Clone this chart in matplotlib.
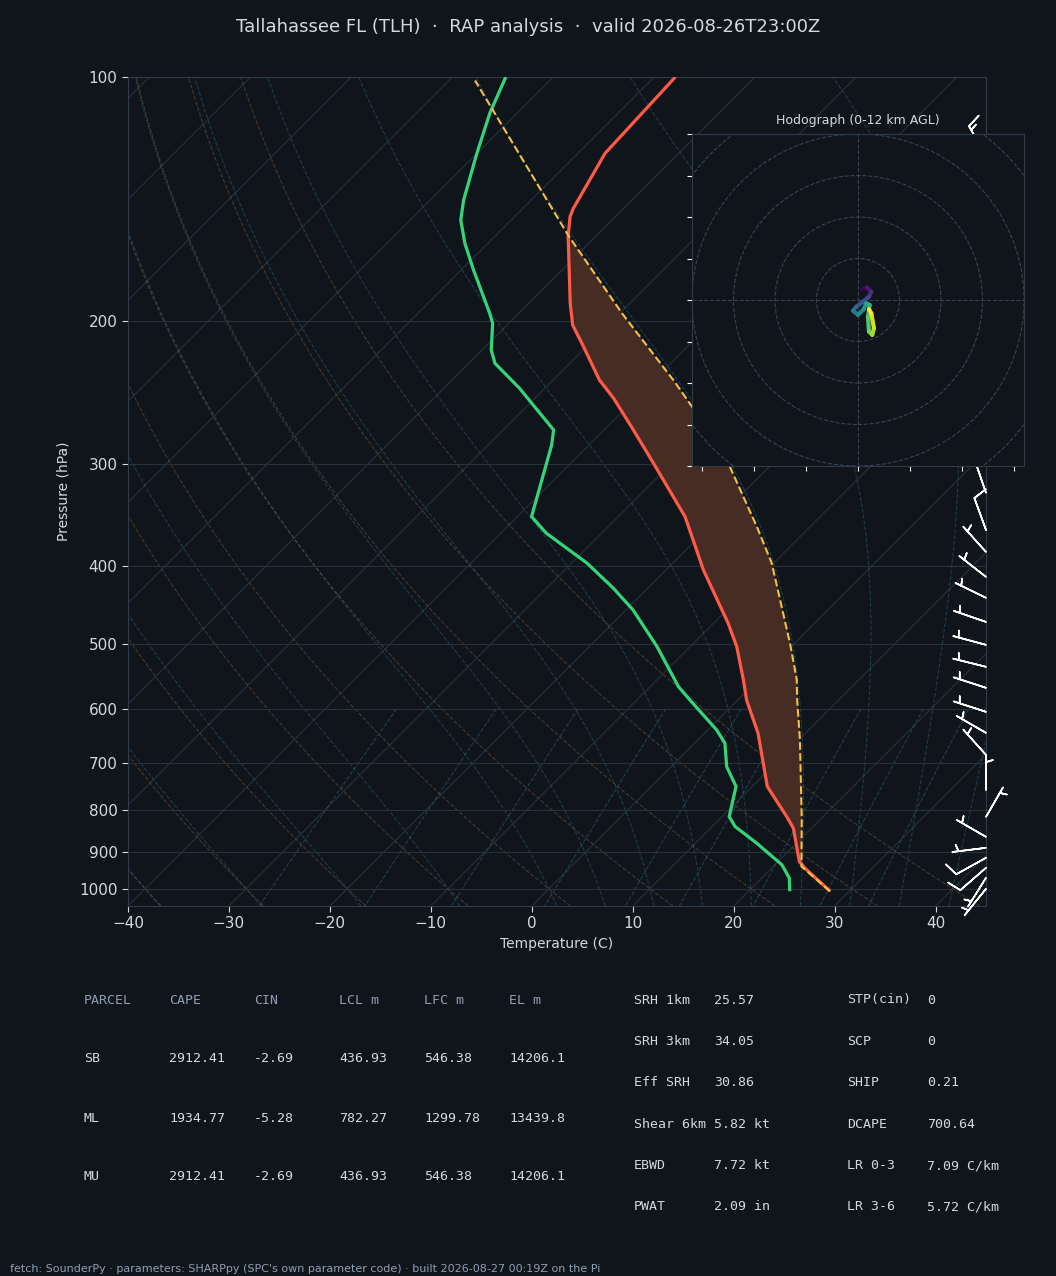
import numpy as np
import matplotlib
matplotlib.use('Agg')
import matplotlib.pyplot as plt
from matplotlib import transforms
from matplotlib.collections import LineCollection
from matplotlib.patches import Circle
from matplotlib.ticker import NullLocator

# ---------------- data ----------------
title = "Tallahassee FL (TLH)  \u00b7  RAP analysis  \u00b7  valid 2026-08-26T23:00Z"

temp_p = [1007, 943.0, 925.5, 887, 841.9, 814.8, 748.2, 643.2, 585.3, 552.7, 503, 470.9,
          404.7, 378.8, 347.9, 299.1, 272.1, 248.7, 236.2, 214.8, 202.1, 190.0, 157.3,
          148.6, 145.1, 124.2, 100]
temp_c = [28.1, 23.3, 22.1, 20.35, 18.2, 16.4, 11.5, 5.3, 0.87, -1.45, -5.4, -8.55,
          -16.3, -19.4, -23.4, -31.8, -37.1, -42.2, -45.4, -50.3, -53.5, -55.9, -62.7,
          -64.5, -65.0, -67.3, -67.9]

dewp_p = [1007, 970.1, 934.2, 878.5, 838, 814.8, 748.2, 707.1, 661.6, 637.2, 585.3, 563.6,
          503, 453.4, 426.3, 397, 364.7, 347.9, 284.0, 272.1, 253.5, 241.8, 225.3, 216.9,
          201.1, 195.4, 172.8, 160.2, 150.0, 141.7, 124.2, 110.8, 100]
dewp_c = [24.1, 22.75, 20.7, 16.05, 12.26, 10.7, 8.4, 5.5, 3.0, 0.87, -4.75, -7.2,
          -13.3, -19.3, -23.4, -28.5, -35.5, -38.6, -43.7, -45.0, -49.5, -52.5, -57.4, -59.1,
          -61.6, -62.9, -68.8, -72.3, -75.0, -76.7, -80.0, -82.7, -84.7]

parcel_p = [1007, 938.6, 878.5, 822.1, 655.3, 585.3, 552.7, 498.2, 397, 357.9, 302,
            254.7, 237.3, 195.4, 156.5, 101]
parcel_c = [28.1, 22.8, 20.5, 18.2, 10.1, 5.88, 3.84, -0.46, -10.2, -15.3, -23.9,
            -33.6, -37.8, -49.8, -62.9, -87.4]

barb_p = [125, 150, 175, 200, 225, 250, 275, 325.3, 361.4, 384.6, 412.8, 438.1, 469.1,
          500.6, 532.8, 565.5, 605.4, 642.6, 683.9, 755.2, 815.5, 863.0, 890.3, 915.8,
          942.2, 969.3, 1000]
barb_dir = [330, 335, 340, 340, 345, 340, 340, 341, 340, 318, 308, 296, 289,
            285, 284, 288, 288, 300, 318, 360, 30, 300, 263, 241,
            229, 212, 219]
barb_spd = [15, 10, 10, 5, 5, 5, 5, 5, 10, 5, 5, 5, 5,
            5, 5, 5, 5, 5, 5, 5, 5, 5, 5, 10,
            10, 5, 5]

hodo_u = [1.04, 2.16, 3.2, 2.64, 1.2, -0.4, -1.2, 0.0, 1.36, 2.0, 2.8, 2.4, 2.64, 3.44, 3.84, 3.2, 2.64]
hodo_v = [2.56, 3.04, 2.0, 0.8, -0.4, -1.6, -2.56, -3.6, -2.24, -0.8, -1.2, -4.0, -7.6, -8.4, -6.8, -3.2, -2.24]

table_head = ["PARCEL", "CAPE", "CIN", "LCL m", "LFC m", "EL m"]
table_rows = [["SB", "2912.41", "-2.69", "436.93", "546.38", "14206.1"],
              ["ML", "1934.77", "-5.28", "782.27", "1299.78", "13439.8"],
              ["MU", "2912.41", "-2.69", "436.93", "546.38", "14206.1"]]
params_a = [["SRH 1km", "25.57"], ["SRH 3km", "34.05"], ["Eff SRH", "30.86"],
            ["Shear 6km", "5.82 kt"], ["EBWD", "7.72 kt"], ["PWAT", "2.09 in"]]
params_b = [["STP(cin)", "0"], ["SCP", "0"], ["SHIP", "0.21"],
            ["DCAPE", "700.64"], ["LR 0-3", "7.09 C/km"], ["LR 3-6", "5.72 C/km"]]
footer = ("fetch: SounderPy \u00b7 parameters: SHARPpy (SPC's own parameter code) "
          "\u00b7 built 2026-08-27 00:19Z on the Pi")

# ---------------- style ----------------
BG = '#10151c'
TXT = '#d3d9df'
HEAD = '#8e9fb3'
GRID = '#27313b'
SPINE = '#2f3b48'
RED = '#ff5a48'
GREEN = '#35d47a'
YELLOW = '#f4c13f'
CAPE = '#472c25'

FW, FH = 10.56, 12.76
fig = plt.figure(figsize=(FW, FH), dpi=100, facecolor=BG)
L, B, W, H = 128 / 1056, (1276 - 906) / 1276, 858 / 1056, 829 / 1276
ax = fig.add_axes([L, B, W, H], facecolor=BG)
ax.set_yscale('log')
PBOT, PTOP = 1050, 100
ax.set_xlim(-40, 45)
ax.set_ylim(PBOT, PTOP)

k = (H * FH) / (W * FW)
skew = transforms.Affine2D(np.array([[1.0, k, 0.0], [0.0, 1.0, 0.0], [0.0, 0.0, 1.0]]))
trans = ax.transScale + ax.transLimits + skew + ax.transAxes

# isotherms
for t0 in range(-160, 50, 10):
    ax.plot([t0, t0], [PBOT, PTOP], transform=trans, color=GRID, lw=0.8, zorder=1)

pgrid = np.geomspace(PBOT, PTOP, 200)
# dry adiabats
for t0 in np.arange(-40, 46, 10):
    td = (t0 + 273.15) * (pgrid / 1000.0) ** 0.2857 - 273.15
    ax.plot(td, pgrid, transform=trans, color='#7a5a3a', alpha=0.5, lw=0.8, ls='--', zorder=1)

# moist adiabats
Rd, Lv, Cp, eps = 287.04749, 2.501e6, 1005.7, 0.62196
def dtdp(T, p):
    es = 6.112 * np.exp(17.67 * (T - 273.15) / (T - 29.65))
    rs = eps * es / (p - es)
    return (Rd * T + Lv * rs) / (Cp + Lv * Lv * rs * eps / (Rd * T * T)) / p

def integrate(T0, ps):
    out = [T0]
    T = T0
    for i in range(1, len(ps)):
        h = ps[i] - ps[i - 1]
        p = ps[i - 1]
        k1 = dtdp(T, p)
        k2 = dtdp(T + 0.5 * h * k1, p + 0.5 * h)
        k3 = dtdp(T + 0.5 * h * k2, p + 0.5 * h)
        k4 = dtdp(T + h * k3, p + h)
        T = T + h / 6 * (k1 + 2 * k2 + 2 * k3 + k4)
        out.append(T)
    return np.array(out)

m_t0 = np.concatenate((np.arange(-40, 0, 10), np.arange(0, 46, 5))).astype(float) + 273.15
p_up = np.geomspace(1000, PTOP, 150)
p_dn = np.linspace(1000, PBOT, 10)
T_up = integrate(m_t0, p_up)
T_dn = integrate(m_t0, p_dn)
p_moist = np.concatenate((p_dn[::-1], p_up[1:]))
T_moist = np.concatenate((T_dn[::-1], T_up[1:])) - 273.15
for j in range(len(m_t0)):
    ax.plot(T_moist[:, j], p_moist, transform=trans, color='#2f6a80', alpha=0.45,
            lw=0.8, ls='--', zorder=1)

# mixing ratio lines
pm = np.linspace(600, PBOT, 40)
for w in [0.0004, 0.001, 0.002, 0.004, 0.007, 0.01, 0.016, 0.024, 0.032]:
    e = pm * w / (eps + w)
    lg = np.log(e / 6.112)
    tdw = 243.5 * lg / (17.67 - lg)
    ax.plot(tdw, pm, transform=trans, color='#2f6a80', alpha=0.5, lw=0.8, ls='--', zorder=1)

# CAPE shading
def interp_logp(pnew, pp, tt):
    return np.interp(-np.log(pnew), -np.log(np.array(pp)), np.array(tt))
pf = np.geomspace(1007, 101, 500)
Tf = interp_logp(pf, temp_p, temp_c)
Pf = interp_logp(pf, parcel_p, parcel_c)
ax.fill_betweenx(pf, Tf, Pf, where=Pf > Tf, interpolate=True, transform=trans,
                 color=CAPE, lw=0, zorder=2)

ax.plot(temp_c, temp_p, transform=trans, color=RED, lw=2.3, zorder=4, solid_capstyle='butt')
ax.plot(dewp_c, dewp_p, transform=trans, color=GREEN, lw=2.3, zorder=4, solid_capstyle='butt')
ax.plot(parcel_c, parcel_p, transform=trans, color=YELLOW, lw=1.5, ls='--', zorder=5)

# wind barbs
bd = np.deg2rad(np.array(barb_dir, dtype=float))
bs = np.array(barb_spd, dtype=float)
bu = -bs * np.sin(bd)
bv = -bs * np.cos(bd)
ax.barbs(np.ones(len(barb_p)), barb_p, bu, bv, transform=ax.get_yaxis_transform(),
         clip_on=False, color='white', length=7, lw=1.2, zorder=6)

# axes cosmetics
ax.set_xlim(-40, 45)
ax.set_ylim(PBOT, PTOP)
yt = [100, 200, 300, 400, 500, 600, 700, 800, 900, 1000]
ax.set_yticks(yt, labels=[str(v) for v in yt])
ax.yaxis.set_minor_locator(NullLocator())
ax.set_xticks(range(-40, 41, 10))
ax.grid(axis='y', color=GRID, lw=0.8)
ax.tick_params(colors=TXT, labelsize=11, length=4)
for s in ax.spines.values():
    s.set_color(SPINE)
ax.set_ylabel('Pressure (hPa)', color=TXT, fontsize=10, labelpad=6)
ax.set_xlabel('Temperature (C)', color=TXT, fontsize=10, labelpad=4)

# hodograph
hax = fig.add_axes([692 / 1056, (1276 - 466) / 1276, 332 / 1056, 332 / 1276], facecolor=BG)
hax.set_xlim(-40, 40)
hax.set_ylim(-40, 40)
for r in range(10, 60, 10):
    hax.add_patch(Circle((0, 0), r, fill=False, ls='--', ec='#364352', lw=0.8))
hax.axhline(0, color='#364352', ls='--', lw=0.8)
hax.axvline(0, color='#364352', ls='--', lw=0.8)
pts = np.column_stack([hodo_u, hodo_v]).reshape(-1, 1, 2)
segs = np.concatenate([pts[:-1], pts[1:]], axis=1)
lc = LineCollection(segs, cmap='viridis', lw=3.0, capstyle='round', joinstyle='round')
lc.set_array(np.arange(len(segs), dtype=float))
hax.add_collection(lc)
hax.set_xticks(np.arange(-37.5, 40, 12.5))
hax.set_yticks(np.arange(-40, 41, 10))
hax.tick_params(colors='white', length=3.5, labelleft=False, labelbottom=False)
for s in hax.spines.values():
    s.set_color(SPINE)
hax.set_title('Hodograph (0-12 km AGL)', color=TXT, fontsize=9, pad=7)

# title
fig.text(0.5, 1 - 27 / 1276, title, ha='center', va='center', color=TXT, fontsize=13)

# tables
mono = 'DejaVu Sans Mono'
cols = [84, 169, 254, 339, 424, 509]
for x, s in zip(cols, table_head):
    fig.text(x / 1056, 1 - 1000 / 1276, s, ha='left', va='center', color=HEAD,
             fontsize=9.5, family=mono)
for i, row in enumerate(table_rows):
    y = 1059 + i * 59
    for x, s in zip(cols, row):
        fig.text(x / 1056, 1 - y / 1276, s, ha='left', va='center', color=TXT,
                 fontsize=9.5, family=mono)
for i, (a, b) in enumerate(zip(params_a, params_b)):
    y = 1000 + i * 41.4
    for x, s in zip([634, 714, 847, 927], [a[0], a[1], b[0], b[1]]):
        fig.text(x / 1056, 1 - y / 1276, s, ha='left', va='center', color=TXT,
                 fontsize=9.5, family=mono)

fig.text(10 / 1056, 1 - 1269 / 1276, footer, ha='left', va='center', color=HEAD, fontsize=8)

fig.savefig('out.png', dpi=100, facecolor=BG)
